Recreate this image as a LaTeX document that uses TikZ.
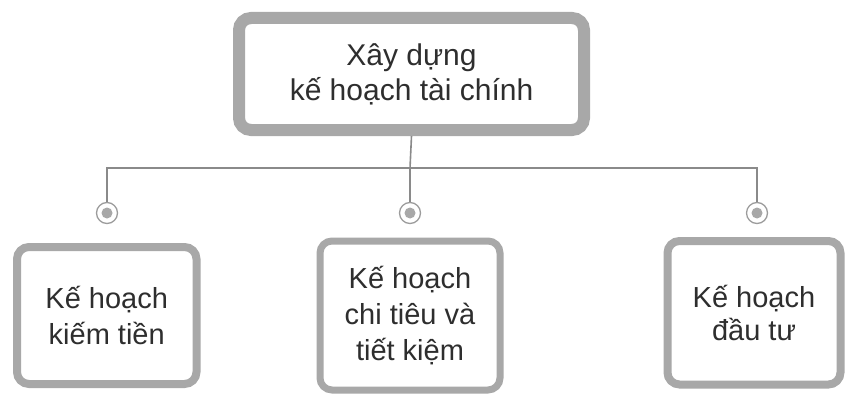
\documentclass[tikz,border=0pt]{standalone}
\usepackage{fontspec}
\setmainfont{Liberation Sans}
\usetikzlibrary{shadows}
\definecolor{rim}{HTML}{A8A8A8}
\definecolor{wire}{HTML}{8A8A8A}
\definecolor{ink}{HTML}{2E2E2E}
\begin{document}
\begin{tikzpicture}[x=1pt,y=-1pt,
  box/.style={draw=rim, fill=white, rounded corners=12pt, align=center,
    text=ink, inner sep=0pt,
    drop shadow={opacity=0.25, shadow xshift=1.5pt, shadow yshift=-2pt}},
  pin/.style={circle, draw=wire!85, line width=1.3pt, fill=white, minimum size=21pt, inner sep=0pt,
    path picture={\fill[rim] (path picture bounding box.center) circle (5.5pt);}},
  wirel/.style={draw=wire, line width=1.6pt}]
\useasboundingbox (0,0) rectangle (845,396);
\node[box, line width=12pt, minimum width=345pt, minimum height=112pt,
  font=\fontsize{30}{35}\selectfont] (top) at (411.5,74) {Xây dựng\\kế hoạch tài chính};
\node[box, line width=8pt, minimum width=179.5pt, minimum height=137pt,
  font=\fontsize{29}{36}\selectfont] (b1) at (106.75,315.5) {Kế hoạch\\kiếm tiền};
\node[box, line width=7pt, minimum width=180pt, minimum height=149pt,
  font=\fontsize{29}{36}\selectfont] (b2) at (410,315.5) {Kế hoạch\\chi tiêu và\\tiết kiệm};
\node[box, line width=8pt, minimum width=173pt, minimum height=143.5pt,
  font=\fontsize{29}{33}\selectfont] (b3) at (754,312.75) {Kế hoạch\\đầu tư};
\node[pin] (c1) at (107,213) {};
\node[pin] (c2) at (410,213) {};
\node[pin] (c3) at (757,213) {};
\coordinate (h1) at (107,168);
\coordinate (j) at (410,168);
\coordinate (h3) at (757,168);
\draw[wirel] (top.south) -- (j) -- (c2.north);
\draw[wirel] (c1.north) -- (h1) -- (h3) -- (c3.north);
\end{tikzpicture}
\end{document}
